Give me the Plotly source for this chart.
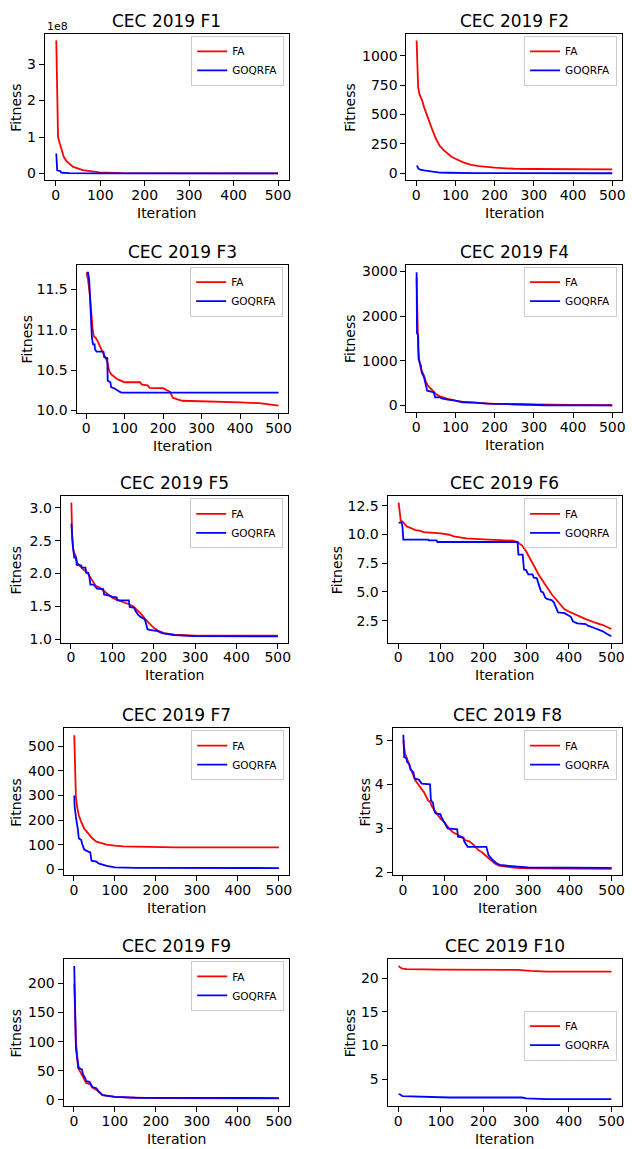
import plotly.graph_objects as go

# ---------------- data ----------------
iter_ticks = [0, 100, 200, 300, 400, 500]

f1_fa_x = [1, 3, 5, 9, 13, 18, 24, 39, 61, 98, 150, 250, 500]
f1_fa_y = [3.65e8, 2.0e8, 1.0e8, 0.82e8, 0.64e8, 0.45e8, 0.34e8, 0.18e8, 0.09e8, 0.03e8, 0.01e8, 0.005e8, 0.003e8]
f1_go_x = [1, 3, 5, 10, 12, 15, 30, 100, 500]
f1_go_y = [0.55e8, 0.09e8, 0.08e8, 0.07e8, 0.03e8, 0.02e8, 0.01e8, 0.003e8, 0.001e8]

f2_fa_x = [1, 3, 5, 8, 15, 20, 30, 40, 50, 60, 70, 80, 90, 100, 120, 140, 160, 200, 250, 300, 400, 500]
f2_fa_y = [1130, 900, 730, 676, 620, 563, 465, 380, 296, 234, 197, 169, 141, 124, 93, 73, 62, 48, 39, 37, 35, 34]
f2_go_x = [1, 3, 5, 10, 20, 30, 40, 50, 60, 80, 100, 150, 200, 500]
f2_go_y = [65, 60, 42, 31, 25, 20, 17, 8.5, 7, 5, 3, 2, 1.5, 1]

f3_fa_x = [1, 5, 10, 14, 17, 20, 25, 30, 35, 40, 45, 50, 55, 60, 65, 70, 80, 90, 100, 140, 145, 160, 165, 200, 210, 218, 225, 235, 250, 300, 400, 450, 500]
f3_fa_y = [11.71, 11.62, 11.42, 11.17, 11.0, 10.92, 10.90, 10.86, 10.80, 10.76, 10.70, 10.66, 10.60, 10.49, 10.45, 10.43, 10.39, 10.37, 10.35, 10.35, 10.32, 10.31, 10.28, 10.275, 10.25, 10.23, 10.16, 10.14, 10.12, 10.115, 10.10, 10.09, 10.06]
f3_go_x = [1, 5, 8, 10, 13, 15, 18, 22, 23, 27, 45, 47, 55, 56, 63, 65, 75, 80, 88, 92, 500]
f3_go_y = [11.71, 11.71, 11.62, 11.42, 11.13, 10.90, 10.82, 10.82, 10.76, 10.73, 10.73, 10.66, 10.65, 10.37, 10.35, 10.29, 10.27, 10.25, 10.23, 10.22, 10.22]

f4_fa_x = [1, 3, 5, 8, 12, 20, 25, 30, 40, 50, 60, 80, 100, 120, 150, 200, 250, 300, 400, 500]
f4_fa_y = [2850, 1555, 1260, 1000, 815, 667, 520, 444, 355, 260, 207, 148, 111, 81, 67, 37, 30, 22, 15, 7]
f4_go_x = [1, 2, 5, 6, 10, 12, 14, 20, 25, 28, 38, 45, 48, 60, 65, 80, 100, 118, 150, 180, 250, 330, 500]
f4_go_y = [2980, 1615, 1580, 1050, 925, 890, 740, 630, 444, 333, 310, 296, 185, 185, 163, 133, 111, 74, 67, 44, 30, 7, 5]

f5_fa_x = [1, 2, 3, 5, 8, 12, 15, 20, 25, 30, 40, 50, 60, 70, 80, 90, 100, 110, 120, 130, 140, 150, 160, 170, 180, 190, 200, 210, 225, 250, 300, 500]
f5_fa_y = [3.08, 2.74, 2.54, 2.39, 2.31, 2.26, 2.16, 2.13, 2.09, 2.06, 2.01, 1.91, 1.81, 1.78, 1.73, 1.68, 1.63, 1.60, 1.58, 1.55, 1.53, 1.50, 1.44, 1.38, 1.30, 1.23, 1.17, 1.13, 1.09, 1.065, 1.05, 1.05]
f5_go_x = [1, 3, 5, 8, 12, 14, 25, 26, 35, 37, 42, 45, 47, 55, 57, 63, 78, 80, 95, 100, 110, 112, 140, 142, 150, 153, 155, 162, 170, 178, 180, 185, 190, 210, 220, 250, 300, 500]
f5_go_y = [2.76, 2.54, 2.39, 2.24, 2.24, 2.13, 2.12, 2.09, 2.09, 2.01, 2.01, 1.93, 1.83, 1.83, 1.81, 1.77, 1.76, 1.68, 1.66, 1.64, 1.64, 1.59, 1.59, 1.49, 1.48, 1.48, 1.44, 1.37, 1.33, 1.30, 1.27, 1.15, 1.14, 1.12, 1.09, 1.06, 1.045, 1.04]

f6_fa_x = [1, 3, 6, 10, 15, 20, 30, 40, 50, 60, 100, 120, 130, 150, 160, 200, 250, 270, 280, 290, 300, 310, 320, 330, 340, 350, 360, 370, 380, 390, 400, 420, 440, 460, 480, 500]
f6_fa_y = [12.76, 11.84, 11.18, 11.12, 10.89, 10.69, 10.55, 10.37, 10.32, 10.2, 10.09, 9.97, 9.83, 9.74, 9.66, 9.57, 9.51, 9.45, 9.31, 9.05, 8.53, 7.82, 7.1, 6.47, 5.9, 5.32, 4.8, 4.37, 3.94, 3.5, 3.3, 2.96, 2.64, 2.36, 2.13, 1.78]
f6_go_x = [1, 8, 10, 12, 70, 72, 90, 92, 280, 282, 292, 295, 300, 305, 315, 318, 325, 330, 335, 340, 345, 350, 360, 365, 370, 375, 390, 395, 405, 410, 420, 440, 445, 460, 470, 480, 490, 500]
f6_go_y = [11.03, 11.03, 10.69, 9.54, 9.54, 9.48, 9.48, 9.34, 9.34, 8.24, 8.24, 6.95, 6.9, 6.52, 6.52, 6.24, 6.2, 5.66, 5.03, 4.95, 4.5, 4.37, 4.3, 4.1, 3.71, 3.22, 3.16, 3.07, 2.84, 2.44, 2.27, 2.21, 2.07, 1.87, 1.73, 1.58, 1.35, 1.15]

f7_fa_x = [1, 2, 3, 5, 8, 12, 18, 25, 35, 45, 55, 70, 80, 100, 120, 150, 250, 500]
f7_fa_y = [545, 430, 335, 295, 254, 220, 193, 166, 146, 126, 112, 103, 100, 96, 93, 92, 89, 89]
f7_go_x = [1, 2, 5, 8, 10, 12, 15, 18, 20, 25, 30, 35, 40, 43, 50, 55, 60, 70, 80, 90, 100, 150, 500]
f7_go_y = [300, 254, 213, 186, 160, 126, 122, 119, 105, 81, 76, 74, 69, 35, 34, 31, 24, 18, 14, 11, 8, 6, 5]

f8_fa_x = [1, 3, 5, 10, 15, 20, 25, 30, 40, 50, 60, 65, 70, 80, 90, 100, 110, 120, 130, 140, 150, 160, 170, 180, 190, 200, 210, 220, 230, 250, 270, 300, 500]
f8_fa_y = [5.0, 4.77, 4.70, 4.58, 4.43, 4.32, 4.21, 4.09, 3.96, 3.83, 3.64, 3.6, 3.49, 3.34, 3.22, 3.13, 3.0, 2.91, 2.85, 2.81, 2.73, 2.70, 2.62, 2.51, 2.45, 2.37, 2.28, 2.20, 2.15, 2.12, 2.10, 2.09, 2.08]
f8_go_x = [1, 2, 3, 8, 10, 15, 18, 25, 28, 38, 45, 65, 67, 72, 75, 78, 90, 92, 100, 107, 130, 132, 145, 147, 155, 200, 205, 215, 225, 232, 250, 300, 500]
f8_go_y = [5.13, 4.92, 4.62, 4.60, 4.51, 4.47, 4.34, 4.28, 4.13, 4.11, 4.02, 4.0, 3.64, 3.58, 3.40, 3.34, 3.32, 3.26, 3.11, 3.0, 2.98, 2.81, 2.79, 2.70, 2.58, 2.58, 2.39, 2.28, 2.20, 2.17, 2.15, 2.11, 2.10]

f9_fa_x = [1, 3, 5, 8, 10, 15, 20, 25, 30, 40, 45, 55, 60, 70, 80, 100, 130, 200, 500]
f9_fa_y = [200, 145, 100, 77, 55, 49, 43, 36, 29, 27, 21, 17, 14, 8, 7, 5, 4, 3, 2.5]
f9_go_x = [1, 3, 5, 8, 10, 12, 20, 22, 28, 30, 38, 45, 55, 60, 70, 100, 150, 500]
f9_go_y = [230, 128, 89, 72, 66, 55, 52, 44, 37, 32, 31, 22, 20, 15, 8, 5, 3.5, 3]

f10_fa_x = [1, 5, 10, 20, 100, 280, 310, 350, 500]
f10_fa_y = [21.82, 21.57, 21.43, 21.33, 21.28, 21.23, 21.08, 20.98, 20.98]
f10_go_x = [1, 5, 10, 50, 100, 120, 290, 300, 350, 500]
f10_go_y = [2.79, 2.74, 2.49, 2.44, 2.39, 2.29, 2.29, 2.15, 2.05, 2.05]

titles = ["CEC 2019 F%d" % i for i in range(1, 11)]
series_names = ["FA", "GOQRFA"]

y_tickvals = [
    [0, 1e8, 2e8, 3e8],
    [0, 250, 500, 750, 1000],
    [10.0, 10.5, 11.0, 11.5],
    [0, 1000, 2000, 3000],
    [1.0, 1.5, 2.0, 2.5, 3.0],
    [2.5, 5.0, 7.5, 10.0, 12.5],
    [0, 100, 200, 300, 400, 500],
    [2, 3, 4, 5],
    [0, 50, 100, 150, 200],
    [5, 10, 15, 20],
]
y_ticktext = [
    ["0", "1", "2", "3"],
    ["0", "250", "500", "750", "1000"],
    ["10.0", "10.5", "11.0", "11.5"],
    ["0", "1000", "2000", "3000"],
    ["1.0", "1.5", "2.0", "2.5", "3.0"],
    ["2.5", "5.0", "7.5", "10.0", "12.5"],
    ["0", "100", "200", "300", "400", "500"],
    ["2", "3", "4", "5"],
    ["0", "50", "100", "150", "200"],
    ["5", "10", "15", "20"],
]

fa_x = [f1_fa_x, f2_fa_x, f3_fa_x, f4_fa_x, f5_fa_x, f6_fa_x, f7_fa_x, f8_fa_x, f9_fa_x, f10_fa_x]
fa_y = [f1_fa_y, f2_fa_y, f3_fa_y, f4_fa_y, f5_fa_y, f6_fa_y, f7_fa_y, f8_fa_y, f9_fa_y, f10_fa_y]
go_x = [f1_go_x, f2_go_x, f3_go_x, f4_go_x, f5_go_x, f6_go_x, f7_go_x, f8_go_x, f9_go_x, f10_go_x]
go_y = [f1_go_y, f2_go_y, f3_go_y, f4_go_y, f5_go_y, f6_go_y, f7_go_y, f8_go_y, f9_go_y, f10_go_y]

# ---------------- layout (pixels) ----------------
W, H = 632, 1149
boxes = [(45, 291, 33, 180), (409, 626, 33, 180),
         (77, 290, 265, 414), (409, 626, 265, 413),
         (61, 290, 498, 645), (390, 626, 498, 645),
         (64, 291, 731, 879), (395, 626, 731, 879),
         (64, 291, 963, 1111), (390, 626, 963, 1111)]
y_ranges = [[-0.18e8, 3.83e8], [-57, 1186], [9.97, 11.81], [-140, 3150], [0.945, 3.175],
            [0.6, 13.3], [-25, 574], [1.93, 5.28], [-11, 242], [1.0, 22.85]]
ylabel_x = [16, 352, 27, 352, 16, 339, 16, 367, 16, 352]
legend_top = [35, 35, 267, 267, 500, 500, 733, 733, 965, 1015]

FONT = "DejaVu Sans"
RED = "#ff0000"
BLUE = "#0000ff"

def px_x(v):
    return v / W

def px_y(v):
    return 1 - v / H

fig = go.Figure()
annotations = []
layout = dict(width=W, height=H, margin=dict(l=0, r=0, t=0, b=0),
              paper_bgcolor="white", plot_bgcolor="white",
              font=dict(family=FONT, color="black"))

for i in range(10):
    n = i + 1
    sfx = "" if n == 1 else str(n)
    leg = "legend" if n == 1 else "legend%d" % n
    x0, x1, y0, y1 = boxes[i]
    fig.add_trace(go.Scatter(x=fa_x[i], y=fa_y[i], mode="lines", name=series_names[0],
                             line=dict(color=RED, width=1.8), xaxis="x" + sfx, yaxis="y" + sfx,
                             legend=leg))
    fig.add_trace(go.Scatter(x=go_x[i], y=go_y[i], mode="lines", name=series_names[1],
                             line=dict(color=BLUE, width=1.8), xaxis="x" + sfx, yaxis="y" + sfx,
                             legend=leg))
    common = dict(showline=True, mirror=True, linecolor="black", linewidth=1,
                  ticks="outside", ticklen=5, tickwidth=1, tickcolor="black",
                  showgrid=False, zeroline=False,
                  tickfont=dict(family=FONT, size=14, color="black"))
    layout["xaxis" + sfx] = dict(domain=[px_x(x0), px_x(x1)], anchor="y" + sfx,
                                 range=[-25, 525], tickmode="array", tickvals=iter_ticks,
                                 ticktext=[str(t) for t in iter_ticks],
                                 ticklabelstandoff=-3, **common)
    layout["yaxis" + sfx] = dict(domain=[px_y(y1), px_y(y0)], anchor="x" + sfx,
                                 range=y_ranges[i], tickmode="array", tickvals=y_tickvals[i],
                                 ticktext=y_ticktext[i], **common)
    layout[leg] = dict(x=px_x(x1 - 5), y=px_y(legend_top[i]), xanchor="right", yanchor="top",
                       bgcolor="white", bordercolor="#cccccc", borderwidth=1,
                       font=dict(family=FONT, size=10.5, color="black"),
                       tracegroupgap=0, itemwidth=30)
    annotations.append(dict(text=titles[i], x=px_x((x0 + x1) / 2), y=px_y(y0 - 13),
                            xref="paper", yref="paper", showarrow=False,
                            xanchor="center", yanchor="middle",
                            font=dict(family=FONT, size=17, color="black")))
    annotations.append(dict(text="Iteration", x=px_x((x0 + x1) / 2), y=px_y(y1 + 33),
                            xref="paper", yref="paper", showarrow=False,
                            xanchor="center", yanchor="middle",
                            font=dict(family=FONT, size=14, color="black")))
    annotations.append(dict(text="Fitness", x=px_x(ylabel_x[i]), y=px_y((y0 + y1) / 2),
                            xref="paper", yref="paper", showarrow=False, textangle=-90,
                            xanchor="center", yanchor="middle",
                            font=dict(family=FONT, size=14, color="black")))

annotations.append(dict(text="1e8", x=px_x(45), y=px_y(26), xref="paper", yref="paper",
                        showarrow=False, xanchor="left", yanchor="middle",
                        font=dict(family=FONT, size=11, color="black")))
layout["annotations"] = annotations
fig.update_layout(**layout)
fig.write_html("out.html")
